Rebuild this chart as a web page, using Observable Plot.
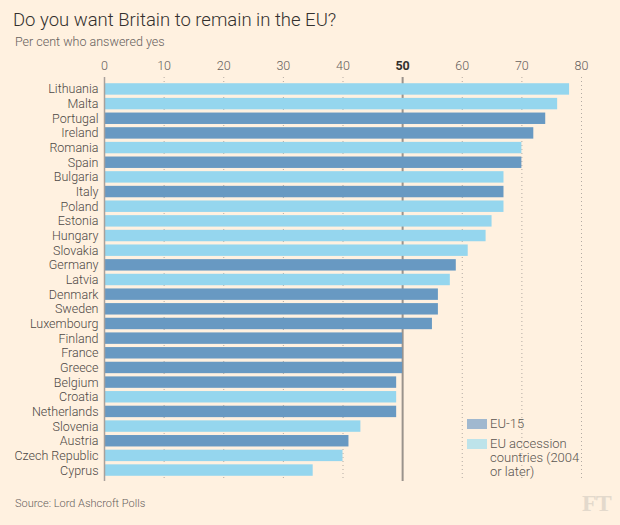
<!DOCTYPE html>
<html>
<head>
<meta charset="utf-8">
<script src="https://cdn.jsdelivr.net/npm/d3@7"></script>
<script src="https://cdn.jsdelivr.net/npm/@observablehq/plot@0.6"></script>
<style>
  body { margin: 0; background: #fff1e0; font-family: Roboto, sans-serif; }
  #wrap { position: relative; width: 620px; height: 525px; background: #fff1e0; overflow: hidden; }
  .abs { position: absolute; white-space: nowrap; }
  #title { left: 13px; top: 11px; font-size: 18.5px; line-height: 1; color: #33302e; font-weight: 300; }
  #subtitle { left: 15px; top: 36px; font-size: 12.5px; line-height: 1; color: #66605c; font-weight: 300; }
  #chart { left: 0; top: 52px; }
  #legend { left: 467px; top: 417px; font-size: 13px; line-height: 14px; color: #5a5550; font-weight: 300; }
  .row { position: relative; padding-left: 23px; margin-bottom: 6px; }
  .sw { position: absolute; left: 0; top: 2px; width: 20px; height: 10px; }
  #source { left: 15px; top: 498px; font-size: 11px; line-height: 1; color: #66605c; font-weight: 300; }
  #ft { left: 582px; top: 491px; font-family: "Liberation Serif", "DejaVu Serif", serif; font-weight: bold; font-size: 24px; line-height: 1; color: #e3d9cc; letter-spacing: -1px; }
</style>
</head>
<body>
<div id="wrap">
  <div id="title" class="abs">Do you want Britain to remain in the EU?</div>
  <div id="subtitle" class="abs">Per cent who answered yes</div>
  <div id="chart" class="abs"></div>
  <div id="legend" class="abs"></div>
  <div id="source" class="abs">Source: Lord Ashcroft Polls</div>
  <div id="ft" class="abs">FT</div>
</div>
<script>
const countries = ["Lithuania","Malta","Portugal","Ireland","Romania","Spain","Bulgaria","Italy","Poland","Estonia","Hungary","Slovakia","Germany","Latvia","Denmark","Sweden","Luxembourg","Finland","France","Greece","Belgium","Croatia","Netherlands","Slovenia","Austria","Czech Republic","Cyprus"];
const values = [78,76,74,72,70,70,67,67,67,65,64,61,59,58,56,56,55,50,50,50,49,49,49,43,41,40,35];
const groups = ["acc","acc","eu15","eu15","acc","eu15","acc","eu15","acc","acc","acc","acc","eu15","acc","eu15","eu15","eu15","eu15","eu15","eu15","eu15","acc","eu15","acc","eu15","acc","acc"];
const groupKeys = ["eu15","acc"];
const groupLabels = ["EU-15","EU accession countries (2004 or later)"];
const barColors = ["#6899c2","#95d6ee"];
const legendColors = ["#a0b8cf","#bde3ea"];
const tickValues = [0,10,20,30,40,60,70,80];
const boldTick = [50];
const gridTicks = [10,20,30,40,60,70,80];

const data = countries.map((c, i) => ({country: c, value: values[i], group: groups[i]}));

const chart = Plot.plot({
  width: 620,
  height: 438,
  marginTop: 25,
  marginBottom: 9,
  marginLeft: 104,
  marginRight: 39,
  x: {domain: [0, 80]},
  y: {domain: countries, padding: 0.22, insetTop: 3, insetBottom: 2, round: false},
  color: {domain: groupKeys, range: barColors},
  style: {background: "transparent", fontFamily: "Roboto, sans-serif", fontSize: "12.5px", fontWeight: 300, overflow: "visible"},
  marks: [
    Plot.ruleX(gridTicks, {x: d => d, stroke: "#b3aba3", strokeWidth: 1, strokeDasharray: "1,3"}),
    Plot.ruleX(boldTick, {x: d => d, stroke: "#9a938c", strokeWidth: 2}),
    Plot.barX(data, {x: "value", y: "country", fill: "group"}),
    Plot.ruleX([0], {stroke: "#a8a19b", strokeWidth: 1.5}),
    Plot.axisX({anchor: "top", ticks: tickValues, tickSize: 0, tickPadding: 8, label: null, fill: "#66605c"}),
    Plot.axisX({anchor: "top", ticks: boldTick, tickSize: 0, tickPadding: 8, label: null, fill: "#33302e", fontWeight: "bold"}),
    Plot.axisY({tickSize: 0, tickPadding: 6, label: null, fill: "#4d4845"})
  ]
});
document.getElementById("chart").appendChild(chart);

const legend = document.getElementById("legend");
const legendLines = [["EU-15"], ["EU accession", "countries (2004", "or later)"]];
groupKeys.forEach((k, i) => {
  const row = document.createElement("div");
  row.className = "row";
  const sw = document.createElement("div");
  sw.className = "sw";
  sw.style.background = legendColors[i];
  row.appendChild(sw);
  const txt = document.createElement("div");
  txt.innerHTML = legendLines[i].join("<br>");
  row.appendChild(txt);
  legend.appendChild(row);
});
</script>
</body>
</html>
